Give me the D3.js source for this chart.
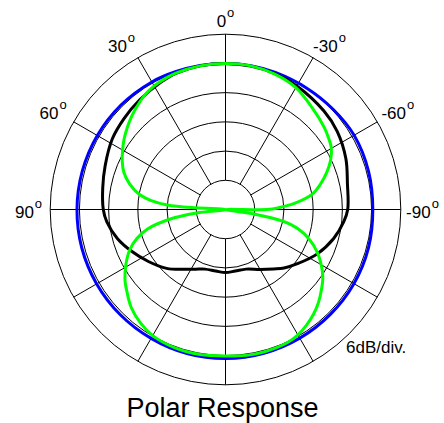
<!DOCTYPE html>
<html>
<head>
<meta charset="utf-8">
<script src="https://cdn.jsdelivr.net/npm/d3@7"></script>
<style>
  html, body { margin: 0; padding: 0; background: #fff; }
  svg { display: block; }
  text { font-family: "Liberation Sans", Arial, Helvetica, sans-serif; fill: #000; }
</style>
</head>
<body>
<svg id="chart" width="444" height="423"></svg>
<script>
// ---- data (angle in degrees, positive = counter-clockwise / left of 0°; level in dB) ----
const angleTicks = [0, 30, -30, 60, -60, 90, -90];
const angleTickLabels = ["0", "30", "-30", "60", "-60", "90", "-90"];
const dbDomain = [-36, 0];
const dbPerDiv = 6;
const scaleNote = "6dB/div.";
const title = "Polar Response";

const blueAngles = [-165,-150,-135,-120,-105,-90,-75,-60,-47,-34,-20,-10,0,10,20,30,45,60,75,90,105,120,135,150,165,180];
const blueDb     = [-5.45,-5.5,-5.55,-5.55,-5.6,-5.75,-5.6,-5.5,-5.8,-6.0,-6.05,-6.0,-6.0,-5.95,-5.9,-5.75,-5.65,-5.6,-5.55,-5.5,-5.45,-5.45,-5.45,-5.45,-5.4,-5.4];

const blackAngles = [-171,-161,-150,-141,-135,-127,-116,-105,-96,-90,-78,-67,-55,-45,-30,-20,-10,0,10,20,27,38,48,58,70,80,90,96,105,114,124,135,145,153.5,161,171,180];
const blackDb     = [-23.2,-23.05,-21.8,-20.3,-19.0,-17.5,-15.1,-13.0,-11.6,-10.9,-10.4,-9.15,-8.0,-7.4,-6.7,-6.3,-6.1,-6.0,-6.05,-6.25,-6.7,-7.4,-8.0,-8.6,-9.7,-10.4,-10.9,-11.5,-13.0,-14.9,-16.9,-18.9,-21.0,-22.3,-23.05,-23.2,-23.05];

const greenAngles = [-172,-165,-155,-150,-145,-140,-135,-130,-125,-120,-115,-110,-105,-101.5,-99,-92,-90,-88,-85,-80,-75,-70,-65,-60,-55,-50,-40,-30,-20,-10,0,10,20,25,30,35,40,45,50,55,60,65,70,75,80,83,85.5,86.8,90,97,100,104,108,113,119,125,130,136,143,150,160,170,180];
const greenDb     = [-5.75,-5.7,-5.85,-6.25,-7.0,-7.9,-9.0,-10.3,-11.6,-13.3,-15.2,-17.5,-20.5,-24.0,-30.0,-36,-27.5,-25.0,-21.8,-17.9,-15.8,-13.9,-12.2,-10.9,-10.2,-9.6,-8.5,-7.1,-6.4,-6.05,-6.0,-6.05,-6.2,-6.4,-6.7,-7.2,-8.0,-8.8,-9.7,-10.6,-11.6,-12.6,-13.8,-15.6,-18.0,-20.5,-24.0,-30.0,-36,-30.0,-24.2,-19.5,-16.9,-14.6,-12.6,-10.8,-9.6,-8.1,-6.9,-6.1,-5.75,-5.75,-5.9];

// ---- layout ----
const svg = d3.select("#chart");
const cx = 225.5, cy = 209.5, R = 175.3;
const g = svg.append("g").attr("transform", `translate(${cx},${cy})`);

const r = d3.scaleLinear().domain(dbDomain).range([0, R]).clamp(true);
const rad = a => a * Math.PI / 180;

// rings
const ringLevels = d3.range(dbDomain[0] + dbPerDiv, dbDomain[1] + 0.001, dbPerDiv);
g.selectAll("circle.ring").data(ringLevels).join("circle")
  .attr("class", "ring")
  .attr("r", d => r(d))
  .attr("fill", "none").attr("stroke", "#000").attr("stroke-width", 1);

// spokes every 30°, from first ring to outer ring
const spokes = d3.range(0, 360, 30);
const r0 = r(dbDomain[0] + dbPerDiv);
g.selectAll("line.spoke").data(spokes).join("line")
  .attr("class", "spoke")
  .attr("x1", d => -r0 * Math.sin(rad(d))).attr("y1", d => -r0 * Math.cos(rad(d)))
  .attr("x2", d => -R * Math.sin(rad(d))).attr("y2", d => -R * Math.cos(rad(d)))
  .attr("stroke", "#000").attr("stroke-width", 1);

// curves
const line = d3.lineRadial()
  .angle(d => -rad(d[0]))
  .radius(d => r(d[1]))
  .curve(d3.curveCatmullRomClosed.alpha(0.5));

const series = [
  { a: blueAngles, v: blueDb, color: "#0000ff" },
  { a: blackAngles, v: blackDb, color: "#000000" },
  { a: greenAngles, v: greenDb, color: "#00ff00" }
];
series.forEach(s => {
  const pts = s.a.map((a, i) => [a, s.v[i]]);
  g.append("path").datum(pts)
    .attr("d", line)
    .attr("fill", "none")
    .attr("stroke", s.color)
    .attr("stroke-width", 3)
    .attr("stroke-linejoin", "round");
});

// angle labels
const labRx = d3.scaleLinear().domain([0, 30, 60, 90]).range([0, 208, 199, 197]);
const labRy = d3.scaleLinear().domain([0, 30, 60, 90]).range([191, 192, 199, 0]);
angleTicks.forEach((a, i) => {
  const s = Math.abs(a);
  const x = -labRx(s) * Math.sin(rad(a));
  const yc = -labRy(s) * Math.cos(rad(a)) + 2.5;
  const t = g.append("text")
    .attr("x", x).attr("y", yc + 6.2)
    .attr("text-anchor", "middle")
    .style("font-size", "17px");
  t.append("tspan").text(angleTickLabels[i]);
  t.append("tspan").text("o").style("font-size", "13px").attr("dy", -10).attr("dx", 1);
});

// scale note
svg.append("text").attr("x", 346).attr("y", 352.5)
  .style("font-size", "17px").text(scaleNote);

// title
svg.append("text").attr("x", 222.5).attr("y", 416.5)
  .attr("text-anchor", "middle")
  .style("font-size", "27px").text(title);
</script>
</body>
</html>
